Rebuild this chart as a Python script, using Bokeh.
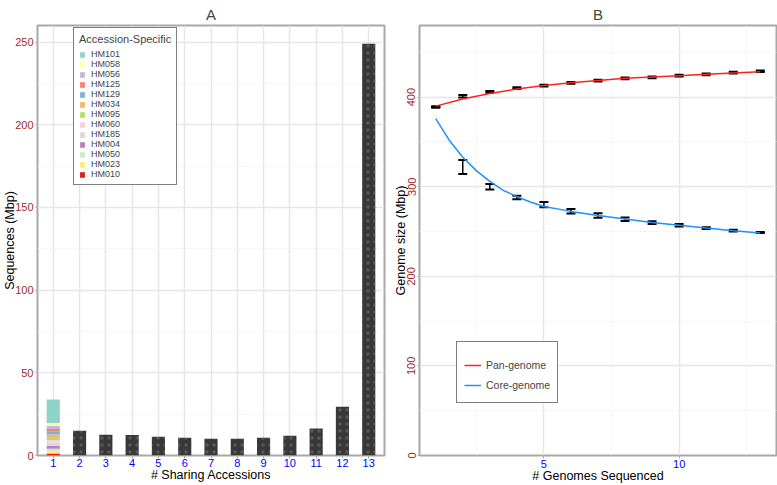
from bokeh.plotting import figure
from bokeh.models import (Range1d, FixedTicker, Legend, LegendItem, Whisker, TeeHead,
                          ColumnDataSource)
from bokeh.layouts import row
from bokeh.embed import file_html
from bokeh.resources import INLINE

# ---------------- data: panel A ----------------
sharing = list(range(1, 14))
shared_x = list(range(2, 14))
shared_seq = [15.0, 12.6, 12.4, 11.4, 10.8, 10.2, 10.2, 10.8, 12.0, 16.3, 29.5, 249.0]

# accession-specific sequences (stack order bottom -> top)
accessions = ["HM010", "HM023", "HM050", "HM004", "HM185", "HM060", "HM095",
              "HM034", "HM129", "HM125", "HM056", "HM058", "HM101"]
acc_values = [1.2, 1.4, 1.5, 1.8, 1.9, 1.6, 1.8, 1.5, 1.7, 1.6, 1.9, 1.8, 14.2]
acc_colors = ["#E41A1C", "#FFED6F", "#CCEBC5", "#BC80BD", "#D9D9D9", "#FCCDE5", "#B3DE69",
              "#FDB462", "#80B1D3", "#FB8072", "#BEBADA", "#FFFFB3", "#8DD3C7"]
a_yticks = [0, 50, 100, 150, 200, 250]

# ---------------- data: panel B ----------------
genomes = list(range(1, 14))
pan_mean = [389, 401, 406, 410, 413, 416, 418.5, 421, 422, 424, 425.5, 427.4, 429]
pan_err = [0.5, 1.5, 1.0, 1.0, 1.0, 1.0, 1.0, 1.0, 1.0, 1.0, 1.0, 1.0, 0.8]
core_mean = [389, 322, 300, 288, 280, 272.6, 268, 263.7, 260, 257, 253.7, 251, 249]
core_err = [0.5, 7.8, 3.0, 2.0, 3.0, 2.5, 2.5, 2.0, 1.5, 1.5, 1.0, 1.0, 0.5]
pan_fit_x = [1, 2, 3, 4, 5, 6, 7, 8, 9, 10, 11, 12, 13]
pan_fit_y = [390, 398, 404, 409, 413, 416, 418.5, 421, 422.5, 424, 425.5, 427, 428.5]
core_fit_x = [1, 1.5, 2, 2.5, 3, 3.5, 4, 4.5, 5, 6, 7, 8, 9, 10, 11, 12, 13]
core_fit_y = [376, 352, 333, 318, 306, 296, 289, 283, 278, 272.5, 268, 264, 260, 257, 254, 251, 248.5]
b_yticks = [0, 100, 200, 300, 400]
b_xticks = [5, 10]

FONT = "Liberation Sans"
FRAME = "#A8A8A8"
GRID = "#E6E6E6"
YLAB = "#A52A2A"
XLAB = "#0000FF"


def style(p):
    p.outline_line_color = FRAME
    p.outline_line_width = 2
    p.background_fill_color = "white"
    p.border_fill_color = "white"
    p.title.align = "center"
    p.title.text_font = FONT
    p.title.text_font_size = "15px"
    p.title.text_font_style = "normal"
    p.title.standoff = 6
    for ax in p.axis:
        ax.axis_line_color = None
        ax.major_tick_line_color = FRAME
        ax.major_tick_out = 2
        ax.major_tick_in = 0
        ax.minor_tick_line_color = None
        ax.major_label_text_font = FONT
        ax.major_label_text_font_size = "11px"
        ax.axis_label_text_font = FONT
        ax.axis_label_text_font_size = "12.5px"
        ax.axis_label_text_font_style = "normal"
        ax.axis_label_text_color = "black"
        ax.major_label_standoff = 0
    p.xaxis.major_tick_out = 3
    p.xaxis.axis_label_standoff = -2
    p.yaxis.axis_label_standoff = -5
    p.xaxis.major_label_text_color = XLAB
    p.yaxis.major_label_text_color = YLAB
    for g in p.grid:
        g.grid_line_color = GRID
        g.grid_line_width = 1.5
        g.minor_grid_line_color = "#EEEEEE"
        g.minor_grid_line_dash = "2 2"
        g.minor_grid_line_width = 1


# ---------------- panel A ----------------
pa = figure(width=386, height=485, output_backend="svg", toolbar_location=None,
            x_range=Range1d(0.4, 13.6), y_range=Range1d(0, 260),
            min_border_left=36, min_border_right=2, min_border_top=24, min_border_bottom=28,
            title="A")
style(pa)
pa.xaxis.ticker = FixedTicker(ticks=sharing)
pa.yaxis.ticker = FixedTicker(ticks=a_yticks, minor_ticks=[25, 75, 125, 175, 225])
pa.xaxis.axis_label = "# Sharing Accessions"
pa.yaxis.axis_label = "Sequences (Mbp)"

pa.vbar(x=shared_x, top=shared_seq, bottom=0, width=0.5, fill_color="#383838", line_color=None,
        hatch_pattern="dot", hatch_color="#8A8A8A", hatch_scale=7, hatch_alpha=0.4)

stack_src = ColumnDataSource({"x": [1], **{a: [v] for a, v in zip(accessions, acc_values)}})
renderers = pa.vbar_stack(accessions, x="x", width=0.5, source=stack_src, color=acc_colors,
                          line_color=None)
items = [LegendItem(label=a, renderers=[r]) for a, r in zip(accessions, renderers)][::-1]
leg_a = Legend(items=items, location=(36, 270), title="Accession-Specific",
               title_text_font=FONT, title_text_font_size="11px", title_text_font_style="normal",
               title_standoff=4,
               label_text_font=FONT, label_text_font_size="9px",
               label_height=9, glyph_height=7, glyph_width=6, spacing=0, label_standoff=6,
               padding=5, margin=0, border_line_color="black", border_line_width=1,
               background_fill_color="white", background_fill_alpha=1)
pa.add_layout(leg_a, "center")

# ---------------- panel B ----------------
pb = figure(width=391, height=485, output_backend="svg", toolbar_location=None,
            x_range=Range1d(0.4, 13.6), y_range=Range1d(0, 480),
            min_border_left=33, min_border_right=1, min_border_top=24, min_border_bottom=29,
            title="B")
style(pb)
pb.xaxis.ticker = FixedTicker(ticks=b_xticks, minor_ticks=[2.5, 7.5, 12.5])
pb.yaxis.ticker = FixedTicker(ticks=b_yticks, minor_ticks=[50, 150, 250, 350, 450])
pb.yaxis.major_label_orientation = "vertical"
pb.yaxis.axis_label_standoff = -3
pb.xaxis.axis_label = "# Genomes Sequenced"
pb.yaxis.axis_label = "Genome size (Mbp)"

r_pan = pb.line(pan_fit_x, pan_fit_y, line_color="#FF2020", line_width=1.5)
r_core = pb.line(core_fit_x, core_fit_y, line_color="#1E90FF", line_width=1.5)

for means, errs in ((pan_mean, pan_err), (core_mean, core_err)):
    src = ColumnDataSource({"x": genomes,
                            "lo": [m - e for m, e in zip(means, errs)],
                            "hi": [m + e for m, e in zip(means, errs)]})
    w = Whisker(source=src, base="x", upper="hi", lower="lo", line_color="black", line_width=1.5,
                upper_head=TeeHead(size=9, line_color="black", line_width=2),
                lower_head=TeeHead(size=9, line_color="black", line_width=2))
    pb.add_layout(w)

leg_b = Legend(items=[LegendItem(label="Pan-genome", renderers=[r_pan]),
                      LegendItem(label="Core-genome", renderers=[r_core])],
               location=(37, 52), title=" ", title_text_font_size="5px", title_standoff=0,
               label_text_font=FONT, label_text_font_size="10.5px",
               label_height=20, glyph_height=20, glyph_width=17, spacing=0, label_standoff=5,
               padding=7, margin=0, border_line_color="black", border_line_width=1,
               background_fill_color="white", background_fill_alpha=1)
pb.add_layout(leg_b, "center")

layout = row(pa, pb)
open("out.html", "w").write(file_html(layout, INLINE))
